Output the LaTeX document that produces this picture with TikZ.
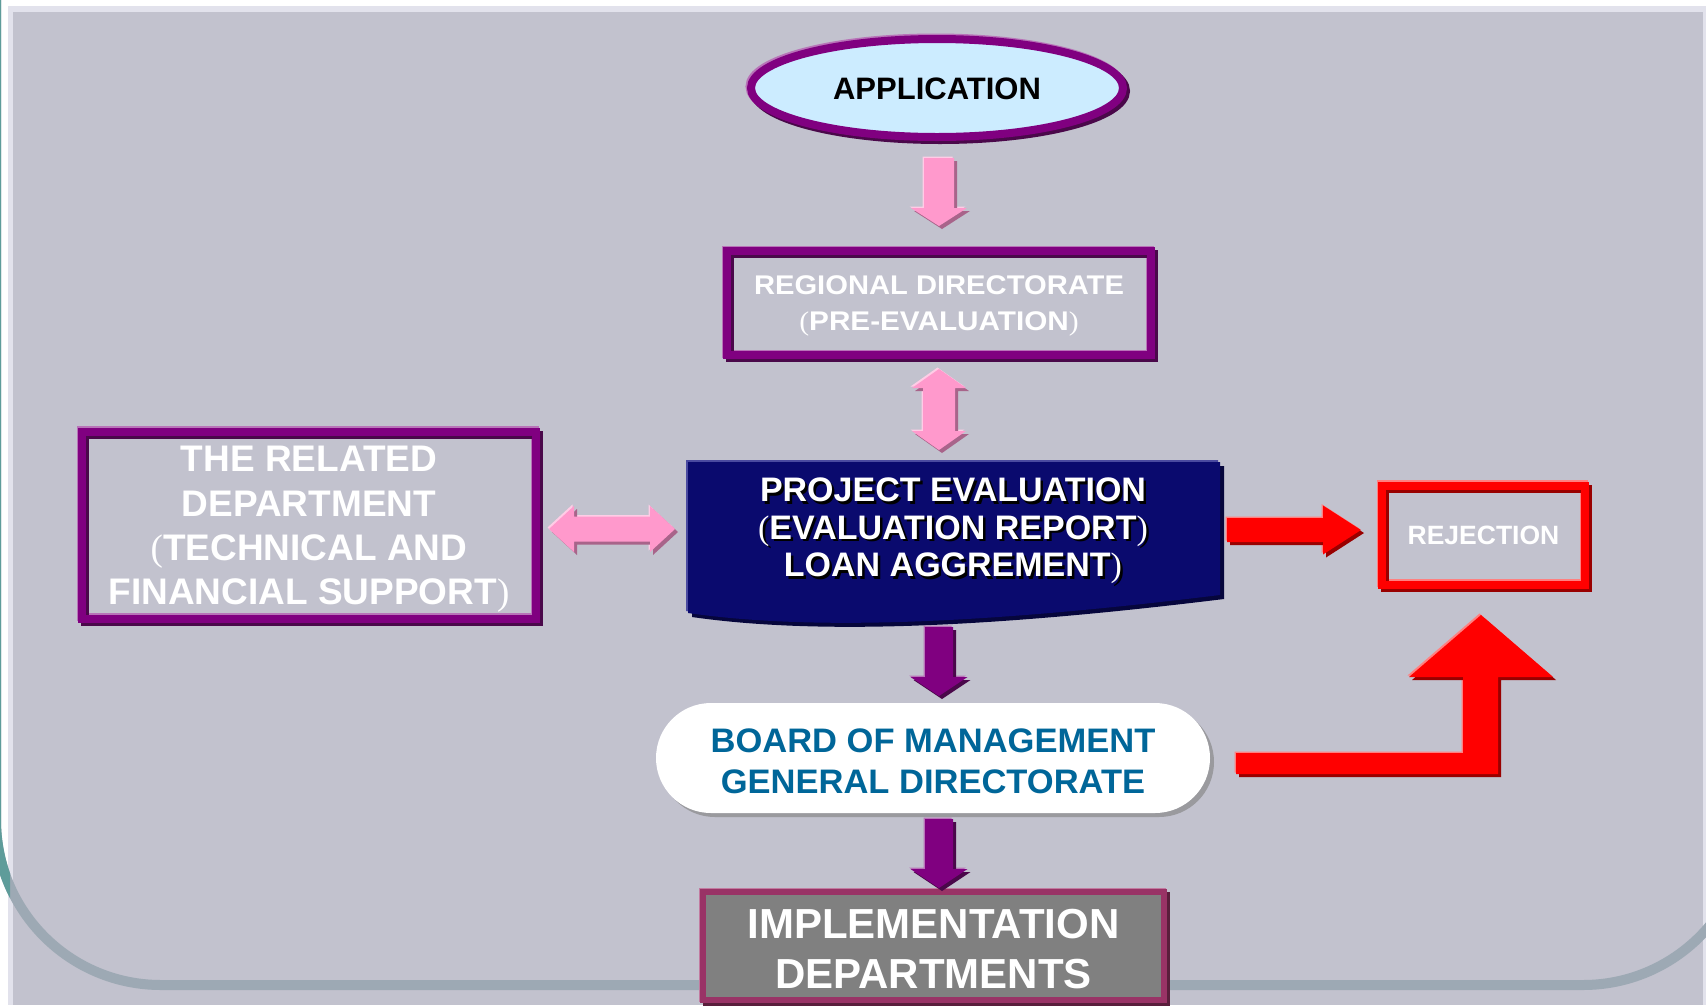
\documentclass[tikz,border=0pt]{standalone}
\usepackage{fontspec}
\setmainfont{Liberation Sans}
\newfontfamily\pfont{Liberation Serif}
\usetikzlibrary{calc,shadows,shapes.geometric}

\definecolor{panel}{HTML}{C2C2CE}
\definecolor{lav}{HTML}{E2E2EC}
\definecolor{framel}{HTML}{9DA9B4}
\definecolor{framet}{HTML}{5E9C9A}
\definecolor{purp}{HTML}{800080}
\definecolor{purpd}{HTML}{4A084A}
\definecolor{purpl}{HTML}{B873B8}
\definecolor{pinkf}{HTML}{FF99CC}
\definecolor{pinkd}{HTML}{A8648A}
\definecolor{pinkl}{HTML}{FFCCE6}
\definecolor{redf}{HTML}{FF0000}
\definecolor{redd}{HTML}{990000}
\definecolor{redl}{HTML}{FF8080}
\definecolor{navy}{HTML}{0A0A6E}
\definecolor{navyd}{HTML}{06063C}
\definecolor{navyl}{HTML}{4A4AA0}
\definecolor{appfill}{HTML}{CCECFF}
\definecolor{boardtxt}{HTML}{006699}
\definecolor{boardsh}{HTML}{9A9A9E}
\definecolor{implf}{HTML}{808080}
\definecolor{impld}{HTML}{993366}
\definecolor{impldd}{HTML}{5A1E3C}
\definecolor{impll}{HTML}{C27AA0}

\newcommand\lp{{\pfont\mdseries(}}
\newcommand\rp{{\pfont\mdseries)}}
\newcommand\tl[1]{\begin{tabular}[t]{@{}c@{}}#1\end{tabular}}

% single block arrow: start, tip, shaft half width, head half width, head length, fill, shadow, light
\newcommand\sarrow[8]{%
  \coordinate (#1h) at ($(#2)!#5!(#1)$);
  \def\ap{($(#1)!#3!90:(#2)$) -- ($(#1h)!#3!90:(#2)$) -- ($(#1h)!#4!90:(#2)$) -- (#2) -- ($(#1h)!#4!-90:(#2)$) -- ($(#1h)!#3!-90:(#2)$) -- ($(#1)!#3!-90:(#2)$) -- cycle}%
  \fill[#8, transform canvas={shift={(-1.5pt,1.5pt)}}] \ap;
  \fill[#7, transform canvas={shift={(3pt,-3pt)}}] \ap;
  \fill[#6] \ap;
}
% double block arrow
\newcommand\darrow[8]{%
  \coordinate (#1h) at ($(#1)!#5!(#2)$);
  \coordinate (#2h) at ($(#2)!#5!(#1)$);
  \def\ap{(#1) -- ($(#1h)!#4!90:(#2)$) -- ($(#1h)!#3!90:(#2)$) -- ($(#2h)!#3!90:(#2)$) -- ($(#2h)!#4!90:(#2)$) -- (#2) -- ($(#2h)!#4!-90:(#2)$) -- ($(#2h)!#3!-90:(#2)$) -- ($(#1h)!#3!-90:(#2)$) -- ($(#1h)!#4!-90:(#2)$) -- cycle}%
  \fill[#8, transform canvas={shift={(-1.5pt,1.5pt)}}] \ap;
  \fill[#7, transform canvas={shift={(3pt,-3pt)}}] \ap;
  \fill[#6] \ap;
}

\tikzset{
  bevel/.style n args={4}{draw=#1, line width=#4,
    general shadow={fill=none, draw=#3, line width=#4, shadow xshift=-1.5pt, shadow yshift=1.5pt},
    general shadow={fill=none, draw=#2, line width=#4, shadow xshift=3pt, shadow yshift=-3pt}},
  box/.style={rectangle, inner sep=0pt, outer sep=0pt},
}

\begin{document}
\begin{tikzpicture}[x=1pt,y=-1pt]
\useasboundingbox (0,0) rectangle (1706,1005);
% background and frame
\fill[white] (0,0) rectangle (1706,1005);
\fill[lav] (8,6) rectangle (1706,1005);
\fill[panel] (13,12) rectangle (1703,1005);
\draw[framel, line width=10pt, rounded corners=165pt] (-4,-50) -- (-4,985) -- (1748,985) -- (1748,-50);
\begin{scope}
  \clip (-20,-60) rectangle (10,1010);
  \draw[framet, line width=10pt, rounded corners=165pt] (-4,-50) -- (-4,985) -- (1748,985) -- (1748,-50);
\end{scope}

% nodes
\node[box, ellipse, minimum width=372pt, minimum height=98pt, fill=appfill,
  bevel={purp}{purpd}{purpl}{8pt},
  font=\fontsize{31}{37}\selectfont\bfseries, text height=22.2pt, text depth=0pt]
  (app) at (937,88) {APPLICATION};

\node[box, minimum width=424pt, minimum height=104pt, bevel={purp}{purpd}{purpl}{8pt},
  text=white, font=\fontsize{27}{36}\selectfont\bfseries, text height=19.3pt, text depth=36pt]
  (reg) at (939,303) {\tl{\scalebox{1.08}[1]{REGIONAL DIRECTORATE}\\ \scalebox{1.1}[1]{\lp PRE-EVALUATION\rp}}};

\node[box, minimum width=454pt, minimum height=187pt, bevel={purp}{purpd}{purpl}{8pt},
  text=white, font=\fontsize{37}{44.3}\selectfont\bfseries, text height=26.5pt, text depth=132.9pt]
  (rel) at (309,525) {\tl{THE RELATED\\ DEPARTMENT\\ \lp TECHNICAL AND\\ FINANCIAL SUPPORT\rp}};

% project evaluation document shape
\def\docpath{(688,462) -- (1220,462) -- (1220,595) .. controls (1000,622) and (820,632) .. (688,613) -- cycle}
\fill[navyl, transform canvas={shift={(-2pt,2pt)}}] \docpath;
\fill[navyd, transform canvas={shift={(4pt,-4pt)}}] \docpath;
\fill[navy] \docpath;
\node[box, text=black, font=\fontsize{34}{37.5}\selectfont\bfseries, text height=24.3pt, text depth=75pt]
  (projsh) at (955.5,529.5) {\tl{PROJECT EVALUATION\\ \lp EVALUATION REPORT\rp\\ LOAN AGGREMENT\rp}};
\node[box, text=white, font=\fontsize{34}{37.5}\selectfont\bfseries, text height=24.3pt, text depth=75pt]
  (proj) at (953,527) {\tl{PROJECT EVALUATION\\ \lp EVALUATION REPORT\rp\\ LOAN AGGREMENT\rp}};

\node[box, minimum width=203pt, minimum height=99pt, bevel={redf}{redd}{redl}{8pt},
  text=white, font=\fontsize{26.5}{32}\selectfont\bfseries, text height=19pt, text depth=0pt]
  (rej) at (1483.5,535) {REJECTION};

\node[box, rounded corners=55pt, minimum width=554pt, minimum height=110pt, fill=white,
  general shadow={fill=boardsh, shadow xshift=4pt, shadow yshift=-4pt},
  text=boardtxt, font=\fontsize{34}{41}\selectfont\bfseries, text height=29.3pt, text depth=41pt]
  (board) at (933,758) {\tl{\scalebox{1.015}[1]{BOARD OF MANAGEMENT}\\ \scalebox{1.015}[1]{GENERAL DIRECTORATE}}};

\node[box, minimum width=461pt, minimum height=108pt, fill=implf, bevel={impld}{impldd}{impll}{6pt},
  text=white, font=\fontsize{42}{50}\selectfont\bfseries, text height=35.1pt, text depth=50pt]
  (impl) at (933.5,946) {\tl{IMPLEMENTATION\\ DEPARTMENTS}};

% connectors (block arrows)
\coordinate (a1s) at (939,158);  \coordinate (a1t) at (939,226);
\sarrow{a1s}{a1t}{15pt}{28pt}{18pt}{pinkf}{pinkd}{pinkl}
\coordinate (a2s) at (939,369);  \coordinate (a2t) at (939,450);
\darrow{a2s}{a2t}{16pt}{27pt}{19pt}{pinkf}{pinkd}{pinkl}
\coordinate (a3s) at (549,529);  \coordinate (a3t) at (675,529);
\darrow{a3s}{a3t}{12.5pt}{23pt}{25pt}{pinkf}{pinkd}{pinkl}
\coordinate (a4s) at (1227,530); \coordinate (a4t) at (1361,530);
\sarrow{a4s}{a4t}{12pt}{24.5pt}{38pt}{redf}{redd}{redl}
\coordinate (a5s) at (939,627);  \coordinate (a5t) at (939,696);
\sarrow{a5s}{a5t}{14pt}{28.5pt}{19pt}{purp}{purpd}{purpl}
\coordinate (a6s) at (939,819);  \coordinate (a6t) at (939,888);
\sarrow{a6s}{a6t}{14pt}{28.5pt}{19pt}{purp}{purpd}{purpl}

% bent arrow from board to rejection
\coordinate (b0) at (1236,763.5); \coordinate (b1) at (1481,615);
\def\bp{($(b0)+(0,-10.5)$) -- ($(b1|-b0)+(-18,-10.5)$) -- ($(b1)+(-18,62)$) -- ($(b1)+(-72,62)$) -- (b1) -- ($(b1)+(72,62)$) -- ($(b1)+(17,62)$) -- ($(b1|-b0)+(17,10.5)$) -- ($(b0)+(0,10.5)$) -- cycle}
\fill[redl, transform canvas={shift={(-1.5pt,1.5pt)}}] \bp;
\fill[redd, transform canvas={shift={(3pt,-3pt)}}] \bp;
\fill[redf] \bp;
\end{tikzpicture}
\end{document}
